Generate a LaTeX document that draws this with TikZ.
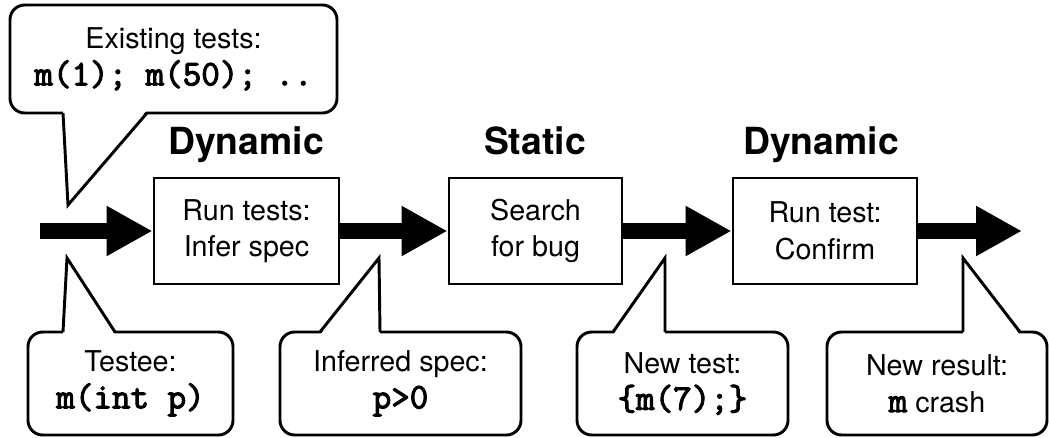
\documentclass[tikz,border=0pt]{standalone}
\usepackage{fontspec}
\setmainfont{TeX Gyre Heros}
\newfontfamily\codefont{Latin Modern Mono}[FakeBold=3]
\usetikzlibrary{arrows.meta}
\newcommand\code[1]{{\fontsize{27}{27.5}\selectfont\codefont #1}}
\begin{document}
\begin{tikzpicture}[x=0.75pt, y=-0.75pt, line width=2.2pt,
    stage/.style={draw, minimum height=79.5pt, align=center,
      font=\fontsize{21.5}{27.5}\selectfont},
    note/.style={draw, fill=white, rounded corners=11pt, align=center,
      font=\fontsize{21.5}{27.5}\selectfont},
    phase/.style={anchor=base, font=\fontsize{28}{30}\selectfont\bfseries},
    flow/.style={line width=12pt, -{Triangle[length=34.5pt, width=35.25pt]}}]
  \useasboundingbox (0,0) rectangle (1049,437);
  % stages
  \node[stage, minimum width=138.75pt] (infer) at (246.5,231) {Run tests:\\Infer spec};
  \node[stage, minimum width=129.75pt] (search) at (535.5,231) {Search\\for bug};
  \node[stage, minimum width=138pt] (confirm) at (825,231) {Run test:\\Confirm};
  \node[phase] (dyn1) at (246,154) {Dynamic};
  \node[phase] (stat) at (535,154) {Static};
  \node[phase] (dyn2) at (821,154) {Dynamic};
  % flow
  \coordinate (in) at (40,231);
  \coordinate (out) at (1022,231);
  \draw[flow] (in) -- (infer);
  \draw[flow] (infer) -- (search);
  \draw[flow] (search) -- (confirm);
  \draw[flow] (confirm) -- (out);
  % callouts
  \node[note, minimum width=245.25pt, minimum height=81pt] (tests) at (173.5,59)
    {Existing tests:\\\code{m(1); m(50); ..}};
  \node[note, minimum width=153.75pt, minimum height=77.25pt] (testee) at (130.5,383.5)
    {Testee:\\\code{m(int p)}};
  \node[note, minimum width=180.75pt, minimum height=77.25pt] (spec) at (400.5,383.5)
    {Inferred spec:\\\code{p>0}};
  \node[note, minimum width=158.25pt, minimum height=77.25pt] (newtest) at (682.5,383.5)
    {New test:\\\code{\{m(7);\}}};
  \node[note, minimum width=165pt, minimum height=77.25pt] (result) at (937,383.5)
    {New result:\\\code{m} crash};
  % pointers
  \fill[white] (63,110) -- (68,205) -- (147,110) -- cycle;
  \draw (63,113) -- (68,205) -- (147,113);
  \foreach \a/\t/\b in {63/67/115, 320/379/380, 613/665/665, 963/963/1020} {
    \fill[white] (\a,335) -- (\t,258) -- (\b,335) -- cycle;
    \draw (\a,332) -- (\t,258) -- (\b,332);
  }
\end{tikzpicture}
\end{document}
